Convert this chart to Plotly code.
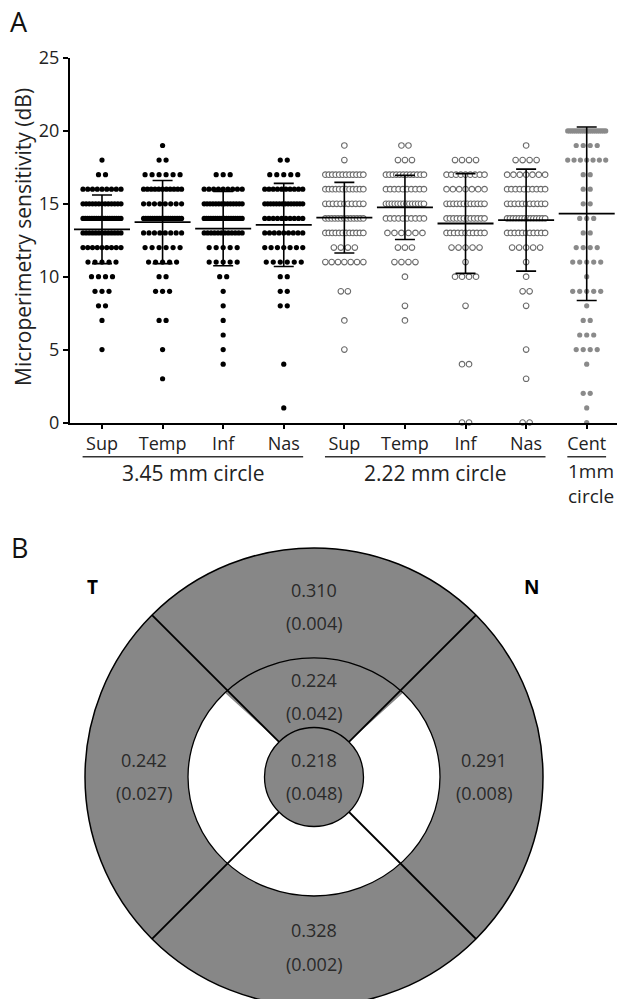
import numpy as np
import plotly.graph_objects as go

W, H = 617, 999

# ---------------- Panel A data ----------------
categories = ["Sup", "Temp", "Inf", "Nas", "Sup", "Temp", "Inf", "Nas", "Cent"]
group_labels = ["3.45 mm circle", "2.22 mm circle", "1mm<br>circle"]
group_members = [[0, 1, 2, 3], [4, 5, 6, 7], [8]]
column_group = [0, 0, 0, 0, 1, 1, 1, 1, 2]

# counts of measurements at each sensitivity value (dB -> number of points)
counts_sup_345 = {18: 1, 17: 2, 16: 9, 15: 13, 14: 18, 13: 13, 12: 9, 11: 5, 10: 4, 9: 3, 8: 2, 7: 1, 5: 1}
counts_temp_345 = {19: 1, 18: 2, 17: 6, 16: 11, 15: 8, 14: 18, 13: 8, 12: 6, 11: 5, 10: 2, 9: 3, 7: 2, 5: 1, 3: 1}
counts_inf_345 = {17: 3, 16: 9, 15: 14, 14: 18, 13: 12, 12: 5, 11: 5, 10: 2, 9: 1, 8: 1, 7: 1, 6: 1, 5: 1, 4: 1}
counts_nas_345 = {18: 2, 17: 5, 16: 10, 15: 14, 14: 10, 13: 9, 12: 7, 11: 6, 10: 2, 9: 2, 8: 2, 4: 1, 1: 1}
counts_sup_222 = {19: 1, 18: 1, 17: 12, 16: 12, 15: 11, 14: 13, 13: 12, 12: 4, 11: 7, 9: 2, 7: 1, 5: 1}
counts_temp_222 = {19: 2, 18: 3, 17: 12, 16: 10, 15: 14, 14: 10, 13: 6, 12: 3, 11: 4, 10: 1, 8: 1, 7: 1}
counts_inf_222 = {18: 4, 17: 9, 16: 7, 15: 12, 14: 12, 13: 11, 12: 5, 11: 1, 10: 4, 8: 1, 4: 2, 0: 2}
counts_nas_222 = {19: 1, 18: 4, 17: 7, 16: 10, 15: 11, 14: 14, 13: 11, 12: 5, 11: 1, 10: 1, 9: 2, 8: 1, 5: 1, 3: 1, 0: 2}
counts_cent_1 = {20: 20, 19: 4, 18: 7, 17: 2, 16: 2, 15: 2, 14: 3, 13: 2, 12: 4, 11: 5, 10: 1, 9: 5, 8: 1,
                 7: 2, 6: 3, 5: 4, 4: 1, 2: 2, 1: 1, 0: 1}

columns = [counts_sup_345, counts_temp_345, counts_inf_345, counts_nas_345,
           counts_sup_222, counts_temp_222, counts_inf_222, counts_nas_222, counts_cent_1]

means = [13.25, 13.75, 13.3, 13.55, 14.05, 14.75, 13.65, 13.88, 14.32]
sds = [2.35, 2.85, 2.55, 2.85, 2.42, 2.2, 3.42, 3.5, 5.95]

y_ticks = [0, 5, 10, 15, 20, 25]

# ---------------- Panel B data ----------------
sector_r = ["0.310", "0.242", "0.291", "0.328", "0.224", "0.218"]
sector_p = ["(0.004)", "(0.027)", "(0.008)", "(0.002)", "(0.042)", "(0.048)"]
sector_angle = [90, 180, 0, 270, 90, 0]
sector_ring = ["outer", "outer", "outer", "outer", "middle", "centre"]
side_labels = ["T", "N"]

# ---------------- layout constants ----------------
FONT = "Open Sans"
AX_LEFT_PX = 70
X_RANGE = [-0.528, 8.5]
Y_TOP_PX, Y_BOT_PX = 58, 422.5
px_per_unit = (W - AX_LEFT_PX) / (X_RANGE[1] - X_RANGE[0])
DOT_STEP_PX = 7.0
ROW_MAX_PX = 38.0

group_style = [
    dict(color="black", size=5.2, line=dict(width=0)),
    dict(color="white", size=5.6, line=dict(color="#6a6a6a", width=1.1)),
    dict(color="#8a8a8a", size=5.2, line=dict(width=0)),
]


def swarm(counts, xc):
    xs, ys = [], []
    for v, n in counts.items():
        step = DOT_STEP_PX if n < 2 else min(DOT_STEP_PX, ROW_MAX_PX / (n - 1))
        for i in range(n):
            xs.append(xc + (i - (n - 1) / 2) * step / px_per_unit)
            ys.append(v)
    return xs, ys


fig = go.Figure()

for ci, counts in enumerate(columns):
    xs, ys = swarm(counts, ci)
    fig.add_trace(go.Scatter(
        x=xs, y=ys, mode="markers", marker=group_style[column_group[ci]],
        cliponaxis=False, hoverinfo="skip", xaxis="x", yaxis="y"))

fig.add_trace(go.Scatter(
    x=list(range(len(categories))), y=means, mode="markers",
    marker=dict(symbol="line-ew", size=40, color="black", line=dict(color="black", width=1.8)),
    error_y=dict(type="data", array=sds, visible=True, width=10, thickness=1.6, color="black"),
    cliponaxis=False, xaxis="x", yaxis="y"))

shapes = []
annotations = []

# group underlines and labels
UL_Y = 1 - 456.7 / H
for gi, members in enumerate(group_members):
    x0 = min(members) - 0.32
    x1 = min(max(members) + 0.32, X_RANGE[1] - 0.02)
    shapes.append(dict(type="line", xref="x", yref="paper", x0=x0, x1=x1, y0=UL_Y, y1=UL_Y,
                       line=dict(color="#333333", width=1.5)))
    if "<br>" in group_labels[gi]:
        annotations.append(dict(
            xref="x", yref="paper", x=x0 - 0.03, y=1 - 484.0 / H,
            text=group_labels[gi], showarrow=False, xanchor="left", yanchor="middle", align="left",
            font=dict(family=FONT, size=19, color="#222222")))
    else:
        annotations.append(dict(
            xref="x", yref="paper", x=float(np.mean(members)), y=1 - 473.5 / H,
            text=group_labels[gi], showarrow=False, xanchor="center", yanchor="middle",
            font=dict(family=FONT, size=21, color="#222222")))

# y-axis title
annotations.append(dict(
    xref="paper", yref="paper", x=23 / W, y=1 - 237 / H, text="Microperimetry sensitivity (dB)",
    textangle=-90, showarrow=False, xanchor="center", yanchor="middle",
    font=dict(family=FONT, size=21, color="#222222")))

# panel letters
annotations.append(dict(xref="paper", yref="paper", x=19 / W, y=1 - 22 / H, text="A", showarrow=False,
                        xanchor="center", yanchor="middle", font=dict(family=FONT, size=27, color="#111")))
annotations.append(dict(xref="paper", yref="paper", x=19 / W, y=1 - 547 / H, text="B", showarrow=False,
                        xanchor="center", yanchor="middle", font=dict(family=FONT, size=27, color="#111")))

# ---------------- Panel B geometry (x2/y2 in pixel-like units) ----------------
R_OUT = 229
RX_MID, RY_MID = 126, 119
R_IN = 49.5
GRAY = "#878787"
LINE = dict(color="black", width=1.5)

shapes.append(dict(type="circle", xref="x2", yref="y2", x0=-R_OUT, x1=R_OUT, y0=-R_OUT, y1=R_OUT,
                   fillcolor=GRAY, line=LINE, layer="above"))
shapes.append(dict(type="circle", xref="x2", yref="y2", x0=-RX_MID, x1=RX_MID, y0=-RY_MID, y1=RY_MID,
                   fillcolor="white", line=dict(width=0), layer="above"))

# superior wedge of the middle ring
t_out = np.radians(np.linspace(45, 135, 60))
t_in = t_out[::-1]
pts = [(RX_MID * np.cos(t), RY_MID * np.sin(t)) for t in t_out] + \
      [(R_IN * np.cos(t), R_IN * np.sin(t)) for t in t_in]
path = "M " + " L ".join(f"{x:.2f},{y:.2f}" for x, y in pts) + " Z"
shapes.append(dict(type="path", xref="x2", yref="y2", path=path, fillcolor=GRAY,
                   line=dict(width=0), layer="above"))

shapes.append(dict(type="circle", xref="x2", yref="y2", x0=-RX_MID, x1=RX_MID, y0=-RY_MID, y1=RY_MID,
                   fillcolor="rgba(0,0,0,0)", line=dict(color="black", width=1.3), layer="above"))
shapes.append(dict(type="circle", xref="x2", yref="y2", x0=-R_IN, x1=R_IN, y0=-R_IN, y1=R_IN,
                   fillcolor=GRAY, line=dict(color="black", width=1.3), layer="above"))

for ang in [45, 135, 225, 315]:
    a = np.radians(ang)
    shapes.append(dict(type="line", xref="x2", yref="y2",
                       x0=R_IN * np.cos(a), y0=R_IN * np.sin(a),
                       x1=R_OUT * np.cos(a), y1=R_OUT * np.sin(a),
                       line=dict(color="black", width=1.8), layer="above"))

label_radius = {"outer": 170, "middle": 80, "centre": 0}
LINE_OFFSET = 16.5
for r_txt, p_txt, ang, ring in zip(sector_r, sector_p, sector_angle, sector_ring):
    a = np.radians(ang)
    cx = label_radius[ring] * np.cos(a)
    cy = label_radius[ring] * np.sin(a)
    for txt, dy in [(r_txt, LINE_OFFSET), (p_txt, -LINE_OFFSET)]:
        annotations.append(dict(xref="x2", yref="y2", x=cx, y=cy + dy, text=txt, showarrow=False,
                                xanchor="center", yanchor="middle",
                                font=dict(family=FONT, size=18, color="#2a2a2a")))

for lab, xpx in zip(side_labels, [92, 531]):
    annotations.append(dict(xref="paper", yref="paper", x=xpx / W, y=1 - 587 / H, text=f"<b>{lab}</b>",
                            showarrow=False, xanchor="center", yanchor="middle",
                            font=dict(family=FONT, size=19, color="black")))

fig.update_layout(
    width=W, height=H, margin=dict(l=0, r=0, t=0, b=0),
    paper_bgcolor="white", plot_bgcolor="white", showlegend=False,
    font=dict(family=FONT, color="#222222"),
    xaxis=dict(domain=[AX_LEFT_PX / W, 1], range=X_RANGE, tickmode="array",
               tickvals=list(range(len(categories))), ticktext=categories,
               ticks="outside", ticklen=4, tickwidth=1.5, tickcolor="black",
               showline=True, linecolor="black", linewidth=2, showgrid=False, zeroline=False,
               tickfont=dict(family=FONT, size=18, color="#222222"), automargin=False),
    yaxis=dict(domain=[1 - Y_BOT_PX / H, 1 - Y_TOP_PX / H], range=[0, 25], tickmode="array",
               tickvals=y_ticks, ticks="outside", ticklen=5, tickwidth=1.5, tickcolor="black",
               showline=True, linecolor="black", linewidth=2, showgrid=False, zeroline=False,
               tickfont=dict(family=FONT, size=18, color="#222222"), automargin=False),
    xaxis2=dict(domain=[0, 1], range=[-314, 303], visible=False, anchor="y2"),
    yaxis2=dict(domain=[0, 0.46], range=[-222, 237.5], visible=False, anchor="x2"),
    shapes=shapes, annotations=annotations,
)

fig.write_html(
    "out.html",
    config={"displayModeBar": False},
    post_script=("document.documentElement.style.margin='0';document.documentElement.style.overflow='hidden';"
                 "document.body.style.margin='0';document.body.style.overflow='hidden';"),
)
